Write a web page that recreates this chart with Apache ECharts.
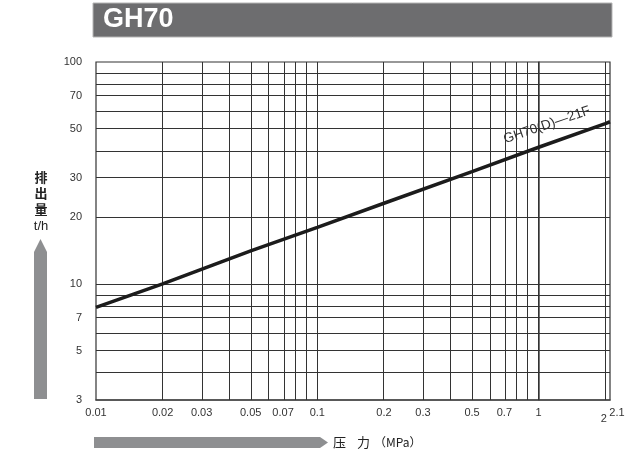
<!DOCTYPE html>
<html>
<head>
<meta charset="utf-8">
<script src="https://cdn.jsdelivr.net/npm/echarts@6/dist/echarts.min.js"></script>
<style>html,body{margin:0;padding:0;background:#fff}#c{width:638px;height:464px}</style>
</head>
<body>
<div id="c"></div>
<script>
// ---- data (real values; plotted on log10 scale) ----
const seriesName = 'GH70(D)—21F';
const pressure = [0.01, 0.02, 0.05, 0.1, 0.2, 0.5, 1, 2, 2.1];       // MPa
const discharge = [7.85, 10.0, 14.1, 18.0, 23.1, 32.1, 41.3, 52.8, 53.8]; // t/h
const xTickLabels = [0.01, 0.02, 0.03, 0.05, 0.07, 0.1, 0.2, 0.3, 0.5, 0.7, 1, 2, 2.1];
const yTickLabels = [3, 5, 7, 10, 20, 30, 50, 70, 100];
const xGrid = [0.02, 0.03, 0.04, 0.05, 0.06, 0.07, 0.08, 0.09, 0.1, 0.2, 0.3, 0.4, 0.5, 0.6, 0.7, 0.8, 0.9, 1, 2];
const yGrid = [4, 5, 6, 7, 8, 9, 10, 20, 30, 40, 50, 60, 70, 80, 90];
const xRange = [0.01, 2.1];
const yRange = [3, 100];
const labelAt = [1.09, 52.0];

const L = Math.log10;
function findLabel(list, v) {
  for (const t of list) if (Math.abs(L(t) - v) < 1e-6) return t;
  return '';
}
const gridColor = '#333';
const markData = xGrid.map(v => ({ xAxis: L(v) })).concat(yGrid.map(v => ({ yAxis: L(v) })));

const chart = echarts.init(document.getElementById('c'), null, { renderer: 'canvas' });
chart.setOption({
  animation: false,
  backgroundColor: '#fff',
  textStyle: { fontFamily: 'Liberation Sans, Arial, sans-serif' },
  grid: { left: 96, right: 28, top: 62, bottom: 64, show: true, borderColor: '#333', borderWidth: 1.2, backgroundColor: 'transparent' },
  xAxis: {
    type: 'value', min: L(xRange[0]), max: L(xRange[1]),
    splitLine: { show: false }, axisTick: { show: false },
    axisLine: { show: true, lineStyle: { color: '#444', width: 1.5 } },
    axisLabel: {
      customValues: xTickLabels.map(L), margin: 7, color: '#333', fontSize: 11,
      formatter: v => {
        const t = findLabel(xTickLabels, v);
        if (t === 2) return '{a|2}';
        if (t === 2.1) return '{b|2.1}';
        return String(t);
      },
      rich: {
        a: { fontSize: 11, color: '#333', padding: [6, 3, 0, 0] },
        b: { fontSize: 11, color: '#333', padding: [0, 0, 0, 14] }
      }
    }
  },
  yAxis: {
    type: 'value', min: L(yRange[0]), max: L(yRange[1]),
    splitLine: { show: false }, axisTick: { show: false },
    axisLine: { show: true, lineStyle: { color: '#444', width: 1.5 } },
    axisLabel: {
      customValues: yTickLabels.map(L), margin: 14, color: '#333', fontSize: 11,
      formatter: v => String(findLabel(yTickLabels, v))
    }
  },
  series: [{
    type: 'line',
    name: seriesName,
    data: pressure.map((p, i) => [L(p), L(discharge[i])]),
    showSymbol: false, symbol: 'none',
    lineStyle: { color: '#1c1c1c', width: 3.5 },
    z: 5,
    markLine: {
      silent: true, symbol: 'none', animation: false,
      label: { show: false },
      lineStyle: { color: gridColor, width: 1, type: 'solid' },
      emphasis: { disabled: true },
      data: markData,
      z: 1
    },
    markPoint: {
      silent: true, symbol: 'circle', symbolSize: 0,
      data: [{ coord: [L(labelAt[0]), L(labelAt[1])], value: seriesName }],
      label: {
        show: true, formatter: seriesName, rotate: 19, color: '#333', fontSize: 13.5,
        position: 'inside'
      }
    }
  }],
  graphic: [
    { type: 'rect', shape: { x: 93, y: 3, width: 519, height: 34 }, style: { fill: '#6d6d6f', stroke: '#b5b5b5', lineWidth: 1 } },
    { type: 'text', x: 103, y: 20, style: { text: 'GH70', fill: '#fff', font: 'bold 27px "Liberation Sans", Arial, sans-serif', verticalAlign: 'middle' } },
    { type: 'polygon', shape: { points: [[34, 399], [34, 252], [40.5, 239], [47, 252], [47, 399]] }, style: { fill: '#8e8f91' } },
    { type: 'polygon', shape: { points: [[94, 437], [320, 437], [328, 442.5], [320, 448], [94, 448]] }, style: { fill: '#8e8f91' } },
    { type: 'text', x: 41, y: 177, style: { text: '排', fill: '#222', font: 'bold 13px "Noto Sans CJK SC", sans-serif', align: 'center', verticalAlign: 'middle' } },
    { type: 'text', x: 41, y: 193, style: { text: '出', fill: '#222', font: 'bold 13px "Noto Sans CJK SC", sans-serif', align: 'center', verticalAlign: 'middle' } },
    { type: 'text', x: 41, y: 209, style: { text: '量', fill: '#222', font: 'bold 13px "Noto Sans CJK SC", sans-serif', align: 'center', verticalAlign: 'middle' } },
    { type: 'text', x: 41, y: 226, style: { text: 't/h', fill: '#222', font: '13px "Liberation Sans", Arial, sans-serif', align: 'center', verticalAlign: 'middle' } },
    { type: 'text', x: 333, y: 442, style: { text: '压', fill: '#222', font: '13px "Noto Sans CJK SC", sans-serif', verticalAlign: 'middle' } },
    { type: 'text', x: 357, y: 442, style: { text: '力', fill: '#222', font: '13px "Noto Sans CJK SC", sans-serif', verticalAlign: 'middle' } },
    { type: 'text', x: 374, y: 442, style: { text: '（MPa）', fill: '#222', font: '12px "Noto Sans CJK SC", sans-serif', verticalAlign: 'middle' } }
  ]
});
</script>
</body>
</html>
